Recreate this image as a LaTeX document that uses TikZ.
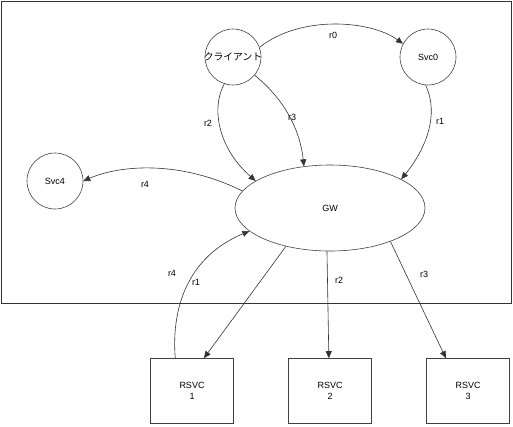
\documentclass[tikz,border=0pt]{standalone}
\usepackage{fontspec}
\setmainfont{Liberation Sans}
\newfontfamily\cjk{Noto Sans CJK JP}
\usetikzlibrary{arrows.meta,shapes.geometric}
\begin{document}
\begin{tikzpicture}[x=1pt,y=-1pt,
  every node/.style={font=\fontsize{9}{10.5}\selectfont},
  ln/.style={draw=black!80, line width=0.6pt},
  arr/.style={ln,-{Triangle[length=7pt,width=6pt]}},
  circ/.style={circle, draw=black!75, line width=0.6pt, minimum size=56pt, inner sep=0pt},
  box/.style={rectangle, draw=black!75, line width=0.6pt, minimum width=83pt, minimum height=65pt, align=center, inner sep=0pt},
  lab/.style={inner sep=1pt}]
\useasboundingbox (0,0) rectangle (513,426);
\draw[draw=black!80, line width=1pt] (1,1.5) rectangle (511.5,303);
\node[circ] (cl) at (233,57) {};
\node[font=\cjk\fontsize{9.8}{11}\selectfont, inner sep=0pt] (clt) at (233,57) {クライアント};
\node[circ] (s0) at (428,57) {Svc0};
\node[circ] (s4) at (55,181) {Svc4};
\node[ellipse, draw=black!75, line width=0.6pt, minimum width=190pt, minimum height=86pt, inner sep=0pt] (gw) at (330,208) {GW};
\node[box] (b1) at (192,391) {RSVC\\1};
\node[box] (b2) at (330,391) {RSVC\\2};
\node[box] (b3) at (468,391) {RSVC\\3};
% top edges
\draw[arr] (cl.20) .. controls (300,15) and (370,20) .. (s0.152);
\draw[arr] (s0.265) .. controls (440,115) and (425,150) .. (gw.22);
\draw[arr] (cl.252) .. controls (210,110) and (220,150) .. (gw.160);
\draw[arr] (cl.-40) .. controls (285,100) and (300,130) .. (gw.122);
\draw[arr] (gw.169) .. controls (180,160) and (120,165) .. (s4.east);
% bottom edges
\draw[arr] (gw.221) -- (b1.70);
\draw[arr] (b1.117) .. controls (172,320) and (180,260) .. (gw.196);
\draw[arr] (gw.266) -- (b2.92);
\draw[arr] (gw.331) -- (b3.124);
% labels
\node[lab] (l0) at (333,35) {r0};
\node[lab] (l1) at (440,121) {r1};
\node[lab] (l2) at (208,123) {r2};
\node[lab] (l3) at (292,117) {r3};
\node[lab] (l4) at (145,184) {r4};
\node[lab] (l5) at (172,273) {r4};
\node[lab] (l6) at (196,282) {r1};
\node[lab] (l7) at (339,280) {r2};
\node[lab] (l8) at (424,274) {r3};
\end{tikzpicture}
\end{document}
